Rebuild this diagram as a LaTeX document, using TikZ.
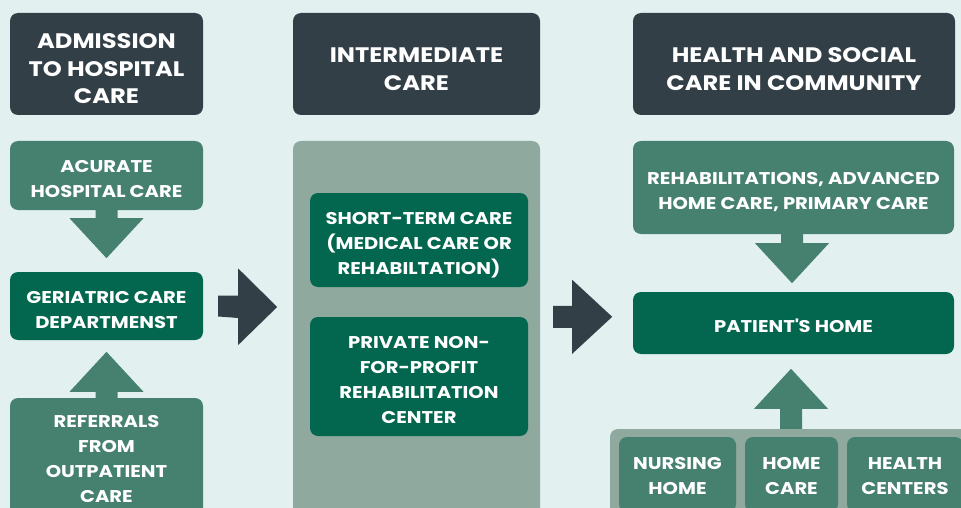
\documentclass[tikz,border=0pt]{standalone}
\usepackage{fontspec}
\setmainfont{Poppins}[FakeStretch=1.15]
\usetikzlibrary{calc}
\definecolor{bg}{HTML}{E2F1F0}
\definecolor{hdr}{HTML}{333F47}
\definecolor{midgreen}{HTML}{468170}
\definecolor{deepgreen}{HTML}{03664E}
\definecolor{panelgrey}{HTML}{8FA99F}
% centred lines of box text, drawn slightly lower than their line boxes
\newcommand\boxtext[2][-4.5pt]{\raisebox{#1}[\height][\depth]{\begin{tabular}{@{}c@{}}#2\end{tabular}}}
\begin{document}
\begin{tikzpicture}[x=1pt,y=-1pt,
  box/.style={rounded corners=8pt, text=white, inner sep=0pt,
    font=\bfseries\fontsize{17}{25}\selectfont},
  headbox/.style={box, fill=hdr, minimum height=102, font=\bfseries\fontsize{21}{27.5}\selectfont},
  midbox/.style={box, fill=midgreen},
  deepbox/.style={box, fill=deepgreen},
  panelbox/.style={rounded corners=8pt, fill=panelgrey, inner sep=0pt},
  blockup/.style={fill=midgreen},
  blockright/.style={fill=hdr}]
\useasboundingbox (0,0) rectangle (961,508);
\clip (0,0) rectangle (961,508);
\fill[bg] (0,0) rectangle (961,508);

% column headers
\node[headbox, minimum width=193] (h1) at (106.5,64) {\boxtext[-7pt]{ADMISSION\\TO HOSPITAL\\CARE}};
\node[headbox, minimum width=247] (h2) at (416.5,64) {\boxtext[-7pt]{INTERMEDIATE\\CARE}};
\node[headbox, minimum width=322] (h3) at (794,64) {\boxtext[-7pt]{HEALTH AND SOCIAL\\CARE IN COMMUNITY}};

% hospital column
\node[midbox, minimum width=193, minimum height=69] (acu) at (106.5,175.5) {\boxtext{ACURATE\\HOSPITAL CARE}};
\node[deepbox, minimum width=193, minimum height=68] (geri) at (106.5,306) {\boxtext{GERIATRIC CARE\\DEPARTMENST}};
\node[midbox, minimum width=193, minimum height=123] (ref) at (106.5,459.5) {\boxtext[-0.5pt]{REFERRALS\\FROM\\OUTPATIENT\\CARE}};

\fill[blockup] ($(acu.south)+(-11,0)$) -- ++(0,8) -- ++(-26,0) -- ($(acu.south)+(0,48)$)
  -- ($(acu.south)+(37,8)$) -- ++(-26,0) -- ($(acu.south)+(11,0)$) -- cycle;
\fill[blockup] ($(ref.north)+(-11,0)$) -- ++(0,-6) -- ++(-26,0) -- ($(ref.north)+(0,-46)$)
  -- ($(ref.north)+(37,-6)$) -- ++(-26,0) -- ($(ref.north)+(11,0)$) -- cycle;

% intermediate column
\node[panelbox, minimum width=247, minimum height=389] (panel) at (416.5,335.5) {};
\node[deepbox, minimum width=218, minimum height=94] (short) at (419,240) {\boxtext{SHORT-TERM CARE\\(MEDICAL CARE OR\\REHABILTATION)}};
\node[deepbox, minimum width=218, minimum height=119] (priv) at (419,376.5) {\boxtext{PRIVATE NON-\\FOR-PROFIT\\REHABILITATION\\CENTER}};

% transfers between columns
\fill[blockright] ($(geri.east)+(15,-10.5)$) -- ++(20,0) -- ++(0,-27) -- ($(geri.east)+(74,1)$)
  -- ($(geri.east)+(35,39)$) -- ++(0,-27) -- ($(geri.east)+(15,10.5)$) -- cycle;
\coordinate (out2) at ($(panel.north east)+(13,176)$);
\fill[blockright] ($(out2)+(0,-11)$) -- ++(19,0) -- ++(0,-26) -- ($(out2)+(59,0)$)
  -- ($(out2)+(19,37)$) -- ++(0,-26) -- ($(out2)+(0,11)$) -- cycle;

% community column
\node[midbox, minimum width=321, minimum height=93] (rehab) at (793.5,187.5) {\boxtext{REHABILITATIONS, ADVANCED\\HOME CARE, PRIMARY CARE}};
\node[deepbox, minimum width=321, minimum height=62] (home) at (793.5,323) {\boxtext{PATIENT\textquotesingle S HOME}};
\node[panelbox, minimum width=370, minimum height=101] (base) at (795,479.5) {};
\node[midbox, minimum width=117, minimum height=75] (nurs) at (677.5,474.5) {\boxtext[-2pt]{NURSING\\HOME}};
\node[midbox, minimum width=93, minimum height=75] (hcare) at (791.5,474.5) {\boxtext[-2pt]{HOME\\CARE}};
\node[midbox, minimum width=116, minimum height=75] (hcent) at (905,474.5) {\boxtext[-2pt]{HEALTH\\CENTERS}};

\fill[blockup] ($(rehab.south)+(-12.5,0)$) -- ++(0,9) -- ++(-26,0) -- ($(rehab.south)+(-1.5,49)$)
  -- ($(rehab.south)+(35.5,9)$) -- ++(-26,0) -- ($(rehab.south)+(9.5,0)$) -- cycle;
\fill[blockup] ($(base.north)+(-15,0)$) -- ++(0,-20) -- ++(-26,0) -- ($(base.north)+(-4,-60)$)
  -- ($(base.north)+(33,-20)$) -- ++(-26,0) -- ($(base.north)+(7,0)$) -- cycle;
\end{tikzpicture}
\end{document}
